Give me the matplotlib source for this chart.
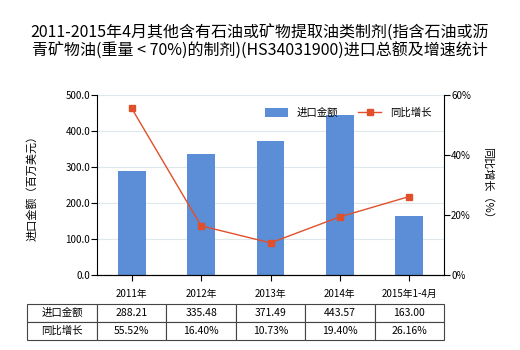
import matplotlib.pyplot as plt
import numpy as np

plt.rcParams['font.family'] = ['Noto Sans CJK SC', 'DejaVu Sans']

# 进口金额 (百万美元) 与同比增长 (%)
years = ['2011年', '2012年', '2013年', '2014年', '2015年1-4月']
import_value = [288.21, 335.48, 371.49, 443.57, 163.00]
growth_pct = [55.52, 16.40, 10.73, 19.40, 26.16]

bar_color = '#5B8ED6'
line_color = '#E0502A'

fig = plt.figure(figsize=(5.2, 3.5), dpi=100)
ax = fig.add_axes([0.1865, 0.214, 0.6675, 0.515])
x = np.arange(len(years))

ax.bar(x, import_value, width=0.4, color=bar_color, label='进口金额', zorder=2)
ax.set_xlim(-0.5, len(years) - 0.5)
ax.set_ylim(0, 500)
ax.set_yticks(np.arange(0, 501, 100))
ax.set_yticklabels([f'{v:.1f}' for v in np.arange(0, 501, 100)], fontsize=7)
ax.set_xticks(x)
ax.set_xticklabels(years, fontsize=7)
ax.grid(axis='y', color='#DDE7EC', linewidth=0.8, zorder=0)
ax.spines['top'].set_visible(False)
ax.spines['right'].set_visible(False)
ax.tick_params(axis='x', length=4, pad=6)
ax.tick_params(axis='y', length=4, pad=1)
ax.set_ylabel('进口金额（百万美元）', fontsize=8, labelpad=20)

ax2 = ax.twinx()
ax2.plot(x, growth_pct, color=line_color, marker='s', markersize=4,
         linewidth=1, label='同比增长', zorder=3)
ax2.set_ylim(0, 60)
ax2.set_yticks([0, 20, 40, 60])
ax2.set_yticklabels(['0%', '20%', '40%', '60%'], fontsize=7)
ax2.spines['top'].set_visible(False)
ax2.spines['left'].set_visible(False)
ax2.tick_params(axis='y', length=4, pad=1)
ax2.set_ylabel('同比增长（%）', fontsize=8, rotation=270, labelpad=16)

h1, l1 = ax.get_legend_handles_labels()
h2, l2 = ax2.get_legend_handles_labels()
ax.legend(h1 + h2, l1 + l2, loc='upper right', bbox_to_anchor=(0.99, 0.98),
          ncol=2, frameon=False, fontsize=7.5, handlelength=2.2,
          handleheight=0.9, columnspacing=2.0)

# 数据表
cells = [['进口金额'] + [f'{v:.2f}' for v in import_value],
         ['同比增长'] + [f'{v:.2f}%' for v in growth_pct]]
tbl = ax.table(cellText=cells, cellLoc='center',
               colWidths=[70] + [69.4] * len(years),
               bbox=[-0.2017, -0.361, 1.2017, 0.2])
tbl.auto_set_font_size(False)
tbl.set_fontsize(7.5)
for (r, c), cell in tbl.get_celld().items():
    cell.set_edgecolor('#444444')
    cell.set_linewidth(0.8)
    if c == 0:
        cell._loc = 'left'
        cell.PAD = 0.03

fig.suptitle('2011-2015年4月其他含有石油或矿物提取油类制剂(指含石油或沥\n'
             '青矿物油(重量 < 70%)的制剂)(HS34031900)进口总额及增速统计',
             fontsize=11.5, y=0.93, linespacing=1.1)

plt.savefig('out.png', dpi=100)
